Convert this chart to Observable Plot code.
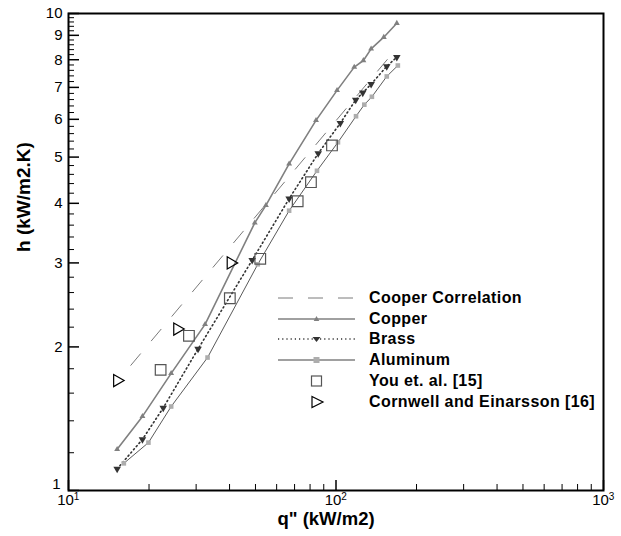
<!DOCTYPE html>
<html>
<head>
<meta charset="utf-8">
<script src="https://cdn.jsdelivr.net/npm/d3@7"></script>
<script src="https://cdn.jsdelivr.net/npm/@observablehq/plot@0.6"></script>
<style>
  html, body { margin: 0; padding: 0; background: #fff; }
  #wrap { position: relative; width: 621px; height: 536px; font-family: Arial, "Liberation Sans", Helvetica, sans-serif; }
  #legend { position: absolute; left: 278px; top: 0; }
  .row { position: absolute; left: 0; height: 20px; white-space: nowrap; }
  .row svg { position: absolute; left: 0; top: 0; }
  .row span { position: absolute; left: 91px; top: 0; line-height: 20px; font-size: 16px; font-weight: bold; letter-spacing: 0.4px; color: #000; }
</style>
</head>
<body>
<div id="wrap"></div>
<script>
// ---- data ----
const cooperQ = [17.1, 168.8];
const cooperH = [1.83, 8.46];

const copperQ = [15.2, 18.9, 24.2, 32.4, 49.7, 54.7, 66.8, 84.2, 100.9, 117.0, 126.6, 135.3, 150.9, 168.8];
const copperH = [1.22, 1.43, 1.76, 2.23, 3.64, 3.96, 4.84, 5.97, 6.90, 7.72, 7.97, 8.43, 8.92, 9.54];

const brassQ = [15.2, 18.9, 22.6, 30.5, 48.6, 66.8, 85.8, 103.8, 118.5, 125.9, 135.3, 154.8, 168.8];
const brassH = [1.11, 1.28, 1.49, 1.98, 3.04, 4.09, 5.09, 5.89, 6.59, 6.82, 7.11, 7.75, 8.10];

const alumQ = [16.1, 19.9, 24.2, 33.1, 51.0, 66.8, 84.9, 101.7, 118.8, 127.6, 136.2, 154.8, 170.3];
const alumH = [1.14, 1.26, 1.50, 1.90, 2.98, 3.86, 4.68, 5.37, 6.09, 6.44, 6.69, 7.38, 7.78];

const youQ = [22.1, 28.2, 40.1, 52.1, 71.9, 80.6, 96.6];
const youH = [1.79, 2.11, 2.53, 3.06, 4.04, 4.43, 5.29];

const cornQ = [15.2, 25.5, 40.4];
const cornH = [1.70, 2.18, 3.00];

const legendLabels = ["Cooper Correlation", "Copper", "Brass", "Aluminum", "You et. al. [15]", "Cornwell and Einarsson [16]"];

const yMajor = [1, 2, 3, 4, 5, 6, 7, 8, 9, 10];
const yMinor = [1.2, 1.4, 1.6, 1.8, 2.2, 2.4, 2.6, 2.8, 3.2, 3.4, 3.6, 3.8, 4.2, 4.4, 4.6, 4.8,
                5.2, 5.4, 5.6, 5.8, 6.2, 6.4, 6.6, 6.8, 7.2, 7.4, 7.6, 7.8, 8.2, 8.4, 8.6, 8.8, 9.2, 9.4, 9.6, 9.8];
const xMajor = [10, 100, 1000];
const xMajorBase = ["10", "10", "10"];
const xMajorExp = ["1", "2", "3"];
const xMinor = [20, 30, 40, 50, 60, 70, 80, 90, 200, 300, 400, 500, 600, 700, 800, 900];

const xLabel = 'q" (kW/m2)';
const yLabel = "h (kW/m2.K)";

// ---- tables ----
const zip = (qs, hs) => qs.map((q, i) => ({q, h: hs[i]}));
const cooper = zip(cooperQ, cooperH);
const copper = zip(copperQ, copperH);
const brass = zip(brassQ, brassH);
const alum = zip(alumQ, alumH);
const you = zip(youQ, youH);
const corn = zip(cornQ, cornH);
const xTicks = xMajor.map((v, i) => ({v, base: xMajorBase[i], exp: xMajorExp[i]}));

const FONT = 'Arial, "Liberation Sans", Helvetica, sans-serif';
const blank = () => "";

const chart = Plot.plot({
  width: 621,
  height: 536,
  marginLeft: 68,
  marginRight: 18,
  marginTop: 13,
  marginBottom: 46,
  style: {fontFamily: FONT, background: "white", color: "black"},
  x: {type: "log", domain: [10, 1000], label: null, axis: null},
  y: {type: "log", domain: [1, 10], label: null, axis: null},
  marks: [
    // inward ticks
    Plot.axisY(yMajor, {anchor: "left", tickSize: -11, tickFormat: blank, label: null, strokeWidth: 1.5}),
    Plot.axisY(yMinor, {anchor: "left", tickSize: -6, tickFormat: blank, label: null}),
    Plot.axisX(xMajor, {anchor: "bottom", tickSize: -10, tickFormat: blank, label: null, strokeWidth: 1.5}),
    Plot.axisX(xMinor, {anchor: "bottom", tickSize: -6, tickFormat: blank, label: null}),
    // y tick labels (the "1" sits a little higher, as in the reference)
    Plot.axisY(yMajor.slice(1), {anchor: "left", tickSize: 0, tickPadding: 6, tickFormat: d => String(d), fontSize: 15, label: null}),
    Plot.axisY(yMajor.slice(0, 1), {anchor: "left", tickSize: 0, tickPadding: 8, dy: -6, tickFormat: d => String(d), fontSize: 15, label: null}),
    // x tick labels: 10 with superscript exponent
    Plot.text(xTicks, {x: "v", text: "base", frameAnchor: "bottom", dy: 14, dx: -3, fontSize: 15, fill: "black"}),
    Plot.text(xTicks, {x: "v", text: "exp", frameAnchor: "bottom", dy: 9, dx: 8, fontSize: 10, fill: "black"}),
    // axis titles
    Plot.text([xLabel], {frameAnchor: "bottom", dy: 34, dx: -10, fontSize: 18.5, fontWeight: "bold", fill: "black"}),
    Plot.text([yLabel], {frameAnchor: "left", rotate: -90, dx: -45, fontSize: 19, fontWeight: "bold", fill: "black"}),
    // series
    Plot.line(cooper, {x: "q", y: "h", stroke: "#7a7a7a", strokeWidth: 1, strokeDasharray: "15,17"}),
    Plot.line(alum, {x: "q", y: "h", stroke: "#5a5a5a", strokeWidth: 1}),
    Plot.line(brass, {x: "q", y: "h", stroke: "#333", strokeWidth: 1.6, strokeDasharray: "1.2,3"}),
    Plot.line(copper, {x: "q", y: "h", stroke: "#808080", strokeWidth: 1.6}),
    Plot.dot(copper, {x: "q", y: "h", symbol: "triangle", r: 2.2, fill: "#808080"}),
    Plot.dot(brass, {x: "q", y: "h", symbol: "triangle", rotate: 180, r: 2.8, fill: "#333"}),
    Plot.dot(alum, {x: "q", y: "h", symbol: "square", r: 2.6, fill: "#adadad"}),
    Plot.dot(you, {x: "q", y: "h", symbol: "square", r: 6, stroke: "#555", strokeWidth: 1.2, fill: "none"}),
    Plot.dot(corn, {x: "q", y: "h", symbol: "triangle", rotate: 90, r: 4.5, stroke: "#000", strokeWidth: 1.2, fill: "none"}),
    Plot.frame({stroke: "black", strokeWidth: 2})
  ]
});

const wrap = document.getElementById("wrap");
wrap.appendChild(chart);

// ---- legend (inside the plot area) ----
const legend = document.createElement("div");
legend.id = "legend";
const rowTops = [288, 309, 329, 349.5, 370.5, 391.5];
const symbols = [
  `<line x1="0" y1="10" x2="77" y2="10" stroke="#7a7a7a" stroke-width="1" stroke-dasharray="15,15"/>`,
  `<line x1="0" y1="10" x2="77" y2="10" stroke="#808080" stroke-width="1.6"/><path d="M38.5,7 L41.3,12 L35.7,12 Z" fill="#808080"/>`,
  `<line x1="0" y1="10" x2="77" y2="10" stroke="#333" stroke-width="1.6" stroke-dasharray="1.2,3"/><path d="M34.5,8 L42.5,8 L38.5,13 Z" fill="#333"/>`,
  `<line x1="0" y1="10" x2="77" y2="10" stroke="#808080" stroke-width="1.6"/><rect x="35.5" y="7" width="6" height="6" fill="#adadad"/>`,
  `<rect x="33.5" y="5" width="10" height="10" fill="none" stroke="#555" stroke-width="1.2"/>`,
  `<path d="M34,4.5 L45,10 L34,15.5 Z" fill="none" stroke="#000" stroke-width="1.2"/>`
];
legendLabels.forEach((lab, i) => {
  const row = document.createElement("div");
  row.className = "row";
  row.style.top = rowTops[i] + "px";
  row.innerHTML = `<svg width="80" height="20">${symbols[i]}</svg><span>${lab}</span>`;
  legend.appendChild(row);
});
wrap.appendChild(legend);
</script>
</body>
</html>
